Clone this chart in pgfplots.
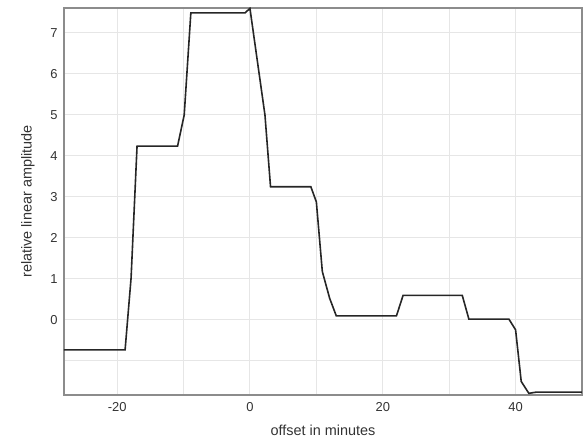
\documentclass[border=0pt]{standalone}
\usepackage{pgfplots}
\pgfplotsset{compat=1.18}
\usepackage{fontspec}
\setmainfont{Liberation Sans}
\definecolor{gridc}{HTML}{E6E6E6}
\definecolor{axc}{HTML}{8C8C8C}
\definecolor{txt}{HTML}{333333}
\begin{document}
\begin{tikzpicture}[x=1bp,y=1bp]
\begin{axis}[
  name=ax, at={(0,0)}, anchor=south west,
  scale only axis, width=518bp, height=387bp,
  xmin=-28, xmax=50, ymin=-1.83, ymax=7.61,
  xtick={-20,0,20,40}, minor xtick={-10,10,30},
  ytick={-1,0,1,2,3,4,5,6,7}, yticklabels={{},0,1,2,3,4,5,6,7},
  grid=both,
  major grid style={gridc, line width=1bp},
  minor grid style={gridc, line width=1bp},
  major tick length=0pt, minor tick length=0pt,
  axis line style={axc, line width=1.2bp},
  tick label style={txt, font=\fontsize{13}{15}\selectfont},
  /pgf/number format/assume math mode=true,
  xticklabel style={yshift=-4bp},
  yticklabel style={xshift=-3bp},
  xlabel={offset in minutes}, ylabel={relative linear amplitude},
  label style={txt, font=\fontsize{14.5}{17}\selectfont},
  xlabel style={at={(axis description cs:0.5,0)}, anchor=center, yshift=-35bp},
  ylabel style={at={(axis description cs:-0.0695,0.5)}, anchor=center},
]
\addplot[color=black!85, line width=1.6bp] coordinates {
(-28,-0.73) (-18.8,-0.73) (-17.9,1.02) (-17.0,4.24) (-10.9,4.24) (-9.9,5.0)
(-8.9,7.49) (-0.75,7.49) (0,7.6) (2.26,5.0) (3.1,3.25) (9.17,3.25) (10.0,2.88)
(10.9,1.18) (12.0,0.53) (13.0,0.1) (22.06,0.1) (23.06,0.6) (31.97,0.6)
(32.97,0.02) (39.0,0.02) (40.0,-0.24) (40.85,-1.5) (42.0,-1.79) (43.1,-1.76) (50,-1.76)
};
\end{axis}
\pgfresetboundingbox
\path[use as bounding box] (-64bp,-45bp) rectangle (519bp,395bp);
\end{tikzpicture}
\end{document}
